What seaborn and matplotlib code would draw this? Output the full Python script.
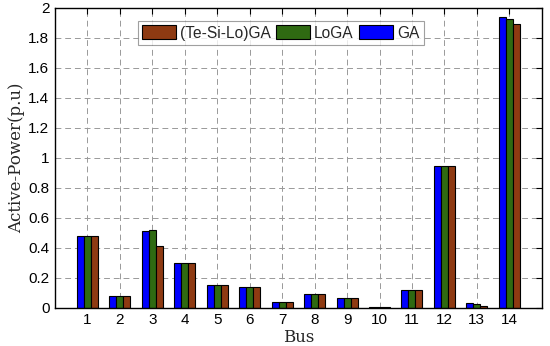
import matplotlib
matplotlib.use("Agg")
import matplotlib.pyplot as plt
import seaborn as sns
import pandas as pd
import numpy as np

buses = list(range(1, 15))
ga = [0.48, 0.08, 0.51, 0.30, 0.155, 0.14, 0.04, 0.095, 0.065, 0.005, 0.12, 0.945, 0.03, 1.938]
loga = [0.48, 0.08, 0.52, 0.30, 0.155, 0.14, 0.04, 0.095, 0.065, 0.005, 0.12, 0.945, 0.025, 1.925]
tesilo = [0.48, 0.08, 0.41, 0.30, 0.155, 0.14, 0.04, 0.095, 0.065, 0.005, 0.12, 0.945, 0.015, 1.893]
series_names = ["GA", "LoGA", "(Te-Si-Lo)GA"]
colors = ["#0000FF", "#2F6A12", "#8E3A12"]

df = pd.DataFrame({
    "Bus": buses * 3,
    "Value": ga + loga + tesilo,
    "Method": [series_names[0]] * 14 + [series_names[1]] * 14 + [series_names[2]] * 14,
})

sns.set_style("white")
plt.rcParams['font.family'] = ['Liberation Sans', 'DejaVu Sans']

fig, ax = plt.subplots(figsize=(5.5, 3.46), dpi=100)
fig.subplots_adjust(left=0.1, right=0.985, top=0.977, bottom=0.11)

sns.barplot(data=df, x="Bus", y="Value", hue="Method", hue_order=series_names,
            palette=colors, width=0.65, edgecolor="black", linewidth=0.8,
            ax=ax, saturation=1, errorbar=None)

ax.set_xlim(-1, 14)
ax.set_ylim(0, 2)
ax.set_yticks(np.arange(0, 2.01, 0.2))
ax.set_yticklabels(["0", "0.2", "0.4", "0.6", "0.8", "1", "1.2", "1.4", "1.6", "1.8", "2"])
ax.set_xticks(range(14))
ax.set_xticklabels([str(b) for b in buses])
ax.tick_params(axis="both", direction="in", length=4, labelsize=11, top=True, right=True,
               colors="black", pad=4)
ax.grid(True, linestyle=(0, (6, 4)), color="#999999", linewidth=0.7)
ax.set_axisbelow(True)
for s in ax.spines.values():
    s.set_color("black")
    s.set_linewidth(1.0)

ax.set_xlabel("Bus", family="DejaVu Serif", fontsize=12, labelpad=1)
ax.set_ylabel("Active-Power(p.u)", family="DejaVu Serif", fontsize=12, labelpad=2)

handles, labels = ax.get_legend_handles_labels()
order = [2, 1, 0]
leg = ax.legend([handles[i] for i in order], [labels[i] for i in order], ncol=3,
                loc="upper left", bbox_to_anchor=(0.17, 0.955), frameon=True,
                fancybox=False, edgecolor="#888888", fontsize=11.2,
                handlelength=2.2, handleheight=1.0, handletextpad=0.25,
                columnspacing=0.35, borderpad=0.25, borderaxespad=0)
leg.get_frame().set_linewidth(0.8)

fig.savefig("out.png", dpi=100)
